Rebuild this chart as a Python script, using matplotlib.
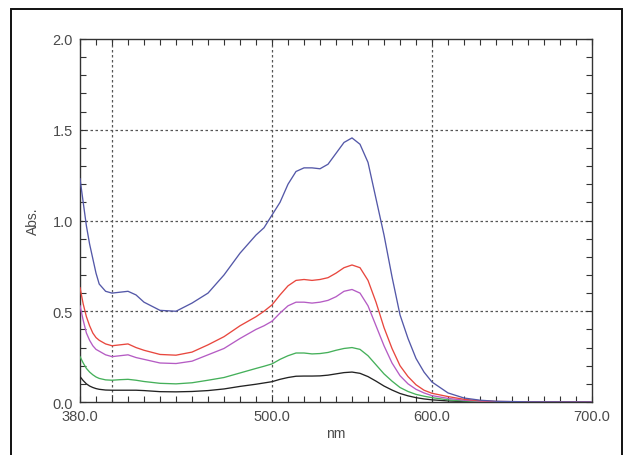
# -*- coding: utf-8 -*-
"""
Absorption spectra (380-700 nm), five samples.
"""

import matplotlib as mp
from matplotlib import pyplot as plt
from matplotlib.patches import Rectangle

mp.use("Agg")

# #############################################################################
# Data
# #############################################################################

wavelength = [380, 382, 384, 386, 388, 390, 392, 396, 400, 405, 410, 415, 420,
              430, 440, 450, 460, 470, 480, 490, 495, 500, 505, 510, 515, 520,
              525, 530, 535, 540, 545, 550, 555, 560, 565, 570, 575, 580, 585,
              590, 595, 600, 610, 620, 630, 640, 660, 700]

abs_blue = [1.23, 1.10, 0.97, 0.87, 0.79, 0.71, 0.65, 0.61, 0.60, 0.605, 0.61,
            0.59, 0.55, 0.505, 0.50, 0.545, 0.60, 0.70, 0.82, 0.92, 0.96,
            1.03, 1.10, 1.20, 1.27, 1.29, 1.29, 1.285, 1.31, 1.37, 1.43, 1.455,
            1.42, 1.32, 1.12, 0.92, 0.69, 0.48, 0.35, 0.24, 0.165, 0.11, 0.05,
            0.022, 0.01, 0.004, 0.001, 0.0]

abs_red = [0.63, 0.54, 0.47, 0.42, 0.38, 0.355, 0.34, 0.32, 0.31, 0.315, 0.32,
           0.30, 0.285, 0.262, 0.258, 0.275, 0.315, 0.36, 0.42, 0.47, 0.50,
           0.535, 0.59, 0.64, 0.67, 0.675, 0.67, 0.675, 0.685, 0.71, 0.74,
           0.755, 0.74, 0.67, 0.55, 0.41, 0.295, 0.20, 0.14, 0.095, 0.065,
           0.048, 0.03, 0.015, 0.007, 0.003, 0.001, 0.0]

abs_magenta = [0.53, 0.45, 0.38, 0.34, 0.31, 0.29, 0.28, 0.26, 0.25, 0.255,
               0.26, 0.245, 0.235, 0.215, 0.212, 0.225, 0.26, 0.295, 0.35,
               0.40, 0.42, 0.445, 0.49, 0.53, 0.55, 0.55, 0.545, 0.55, 0.56,
               0.58, 0.61, 0.62, 0.60, 0.53, 0.42, 0.31, 0.215, 0.145, 0.10,
               0.07, 0.05, 0.035, 0.02, 0.01, 0.005, 0.002, 0.0, 0.0]

abs_green = [0.25, 0.215, 0.185, 0.165, 0.15, 0.138, 0.13, 0.122, 0.12, 0.123,
             0.125, 0.12, 0.113, 0.103, 0.10, 0.106, 0.12, 0.135, 0.16, 0.185,
             0.197, 0.21, 0.235, 0.255, 0.27, 0.27, 0.265, 0.267, 0.273,
             0.285, 0.295, 0.30, 0.29, 0.255, 0.205, 0.155, 0.115, 0.08, 0.058,
             0.042, 0.032, 0.024, 0.012, 0.006, 0.003, 0.001, 0.0, 0.0]

abs_black = [0.14, 0.118, 0.10, 0.088, 0.08, 0.074, 0.07, 0.066, 0.065, 0.065,
             0.065, 0.065, 0.063, 0.057, 0.056, 0.058, 0.063, 0.072, 0.086,
             0.098, 0.105, 0.112, 0.125, 0.135, 0.142, 0.143, 0.143, 0.144,
             0.148, 0.155, 0.162, 0.165, 0.158, 0.14, 0.115, 0.088, 0.066,
             0.047, 0.034, 0.024, 0.017, 0.012, 0.006, 0.003, 0.001, 0.0, 0.0,
             0.0]

x_ticks = [380, 500, 600, 700]
x_labels = ["380.0", "500.0", "600.0", "700.0"]
y_ticks = [0.0, 0.5, 1.0, 1.5, 2.0]
y_labels = ["0.0", "0.5", "1.0", "1.5", "2.0"]
x_grid = [400, 500, 600]
y_grid = [0.5, 1.0, 1.5]

# #############################################################################
# Figure
# #############################################################################

plt.rcParams["font.family"] = ["Liberation Sans", "DejaVu Sans"]

figure = plt.figure(figsize=(6.27, 4.56), dpi=100)
axis = figure.add_axes([0.1276, 0.1162, 0.8166, 0.7961])

text_color = "#4a4a4a"
frame_color = "#333333"

for gx in x_grid:
    axis.axvline(gx, color="#555555", lw=0.9, ls=(0, (2, 2)), zorder=1)
for gy in y_grid:
    axis.axhline(gy, color="#555555", lw=0.9, ls=(0, (2, 2)), zorder=1)

series = [
    (abs_black, "#222222"),
    (abs_green, "#45b05a"),
    (abs_magenta, "#b55cc4"),
    (abs_red, "#e8473e"),
    (abs_blue, "#5458a8"),
]
for values, color in series:
    axis.plot(wavelength, values, color=color, lw=0.95, zorder=3)

axis.set_xlim(380, 700)
axis.set_ylim(0, 2.0)

axis.set_xticks(x_ticks)
axis.set_xticklabels(x_labels)
axis.set_yticks(y_ticks)
axis.set_yticklabels(y_labels)
axis.set_xticks(range(390, 700, 10), minor=True)
axis.set_yticks([i / 10 for i in range(1, 20)], minor=True)

axis.tick_params(which="both", direction="in", top=True, right=True,
                 length=4, width=0.8, color=frame_color,
                 labelsize=10.5, labelcolor=text_color, pad=5)

for spine in axis.spines.values():
    spine.set_color(frame_color)
    spine.set_linewidth(1.0)

axis.set_xlabel("nm", fontsize=10, color=text_color, labelpad=2)
axis.set_ylabel("Abs.", fontsize=10, color=text_color, labelpad=9)

# outer frame round the plot
figure.patches.append(Rectangle((11 / 627, -0.05), 611 / 627, 1.05 - 10 / 456,
                                transform=figure.transFigure, fill=False,
                                edgecolor="#111111", lw=1.4))

figure.savefig("out.png", dpi=100)
